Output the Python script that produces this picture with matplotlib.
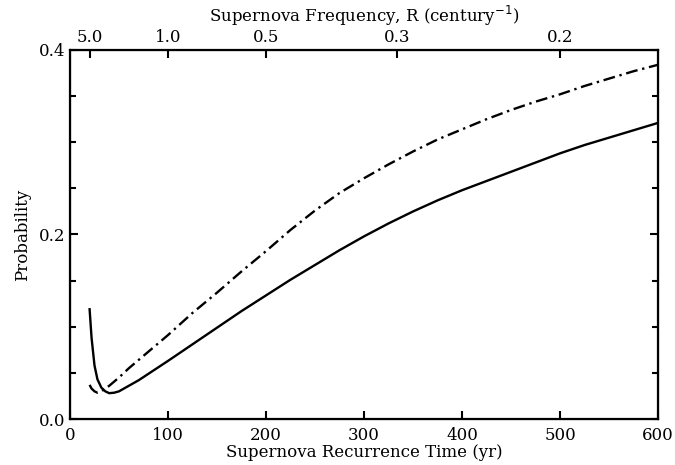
import numpy as np
import matplotlib.pyplot as plt
from matplotlib.ticker import MultipleLocator

# recurrence time (yr) and probability
t_solid = [20, 22, 25, 28, 32, 36, 40, 45, 50, 60, 70, 80, 100, 125, 150, 175, 200,
           225, 250, 275, 300, 325, 350, 375, 400, 425, 450, 475, 500, 525, 550,
           575, 600]
p_solid = [0.119, 0.088, 0.058, 0.043, 0.034, 0.030, 0.028, 0.0285, 0.030, 0.036, 0.042,
           0.049, 0.063, 0.081, 0.099, 0.117, 0.134, 0.151, 0.167, 0.183, 0.198, 0.212,
           0.225, 0.237, 0.248, 0.258, 0.268, 0.278, 0.288, 0.297, 0.305, 0.313, 0.321]

t_dash = [20, 22, 25, 28, 32, 36, 40, 50, 60, 80, 100, 125, 150, 175, 200, 225, 250,
          275, 300, 325, 350, 375, 400, 425, 450, 475, 500, 525, 550, 575, 600]
p_dash = [0.037, 0.033, 0.030, 0.0285, 0.030, 0.033, 0.036, 0.045, 0.055, 0.073, 0.091,
          0.115, 0.137, 0.160, 0.182, 0.205, 0.226, 0.245, 0.261, 0.276, 0.290, 0.303,
          0.314, 0.325, 0.335, 0.344, 0.352, 0.361, 0.369, 0.377, 0.384]

freq_ticks = [5.0, 1.0, 0.5, 0.3, 0.2]
freq_labels = ['5.0', '1.0', '0.5', '0.3', '0.2']

plt.rcParams['font.family'] = ['DejaVu Serif']
plt.rcParams['font.size'] = 12

fig = plt.figure(figsize=(6.75, 4.65), dpi=100)
ax = fig.add_axes([0.1037, 0.0989, 0.8713, 0.7936])

ax.plot(t_solid, p_solid, color='black', lw=1.7)
ax.plot(t_dash, p_dash, color='black', lw=1.7, dashes=(5, 2, 1, 2))

ax.set_xlim(0, 600)
ax.set_ylim(0, 0.4)
ax.set_xticks([0, 100, 200, 300, 400, 500, 600])
ax.set_yticks([0.0, 0.2, 0.4])
ax.set_yticklabels(['0.0', '0.2', '0.4'])
ax.yaxis.set_minor_locator(MultipleLocator(0.05))
ax.tick_params(axis='x', which='major', direction='in', length=6, width=1.5,
               top=False, pad=6)
ax.tick_params(axis='y', which='major', direction='in', length=6, width=1.5,
               right=True, pad=3)
ax.tick_params(axis='y', which='minor', direction='in', length=4, width=1.5, right=True)
for s in ax.spines.values():
    s.set_linewidth(1.6)

ax.set_xlabel('Supernova Recurrence Time (yr)', labelpad=0)
ax.set_ylabel('Probability', labelpad=6)

# top axis: frequency R = 100 / T
ax2 = ax.twiny()
ax2.set_xlim(ax.get_xlim())
ax2.set_xticks([100.0 / r for r in freq_ticks])
ax2.set_xticklabels(freq_labels)
ax2.tick_params(axis='x', direction='in', length=6, width=1.5, pad=3)
ax2.set_xlabel('Supernova Frequency, R (century$^{-1}$)', labelpad=5)

fig.savefig('out.png', dpi=100)
